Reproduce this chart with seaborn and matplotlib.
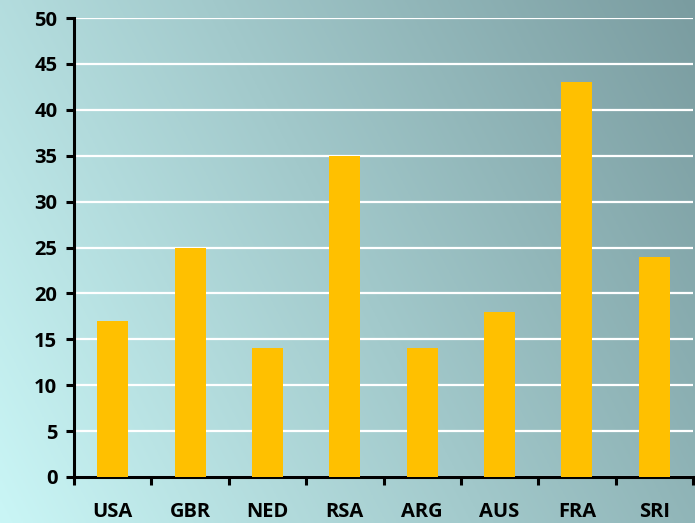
import matplotlib
matplotlib.use("Agg")
import matplotlib.pyplot as plt
import seaborn as sb
import numpy as np
import pandas as pd

countries = ["USA", "GBR", "NED", "RSA", "ARG", "AUS", "FRA", "SRI"]
values = [17, 25, 14, 35, 14, 18, 43, 24]
yticks = [0, 5, 10, 15, 20, 25, 30, 35, 40, 45, 50]

df = pd.DataFrame({"country": countries, "value": values})

sb.set_style("white")
plt.rcParams["font.family"] = ["Open Sans", "DejaVu Sans"]
plt.rcParams["font.weight"] = "bold"

fig = plt.figure(figsize=(6.95, 5.23), dpi=100)

# diagonal gradient background over the whole figure
bg = fig.add_axes([0, 0, 1, 1], zorder=-10)
xx, yy = np.meshgrid(np.linspace(0, 1, 300), np.linspace(0, 1, 300))
t = np.clip(0.72 * xx + 0.28 * yy, 0, 1)  # yy=1 is top
c0 = np.array([0xCA, 0xF6, 0xF6]) / 255
c1 = np.array([0x7A, 0x9C, 0xA0]) / 255
img = c0[None, None, :] * (1 - t[..., None]) + c1[None, None, :] * t[..., None]
bg.imshow(img, origin="lower", aspect="auto", extent=[0, 1, 0, 1])
bg.axis("off")

ax = fig.add_axes([74 / 695, 46 / 523, 619 / 695, 459 / 523])
ax.patch.set_alpha(0)
sb.barplot(data=df, x="country", y="value", color="#FFC000", saturation=1,
           width=0.4, linewidth=0, ax=ax, zorder=3)

ax.set_ylim(0, 50)
ax.set_xlim(-0.5, len(countries) - 0.5)
ax.set_yticks(yticks)
ax.yaxis.grid(True, color="white", linewidth=1.6, zorder=0)
ax.set_axisbelow(True)
for s in ["top", "right"]:
    ax.spines[s].set_visible(False)
for s in ["left", "bottom"]:
    ax.spines[s].set_color("black")
    ax.spines[s].set_linewidth(2.2)

ax.set_xlabel("")
ax.set_ylabel("")
ax.tick_params(axis="y", left=True, length=6, width=2.2, color="black", pad=6,
               labelsize=14.5, labelcolor="black")
ax.tick_params(axis="x", bottom=True, length=0, pad=18, labelsize=14.5,
               labelcolor="black")

# tick marks between categories on the x axis
ax.set_xticks(np.arange(-0.5, len(countries)), minor=True)
ax.tick_params(axis="x", which="minor", bottom=True, length=6, width=2.2,
               color="black")
for lab in ax.get_xticklabels() + ax.get_yticklabels():
    lab.set_fontweight("bold")

fig.savefig("out.png", dpi=100)
